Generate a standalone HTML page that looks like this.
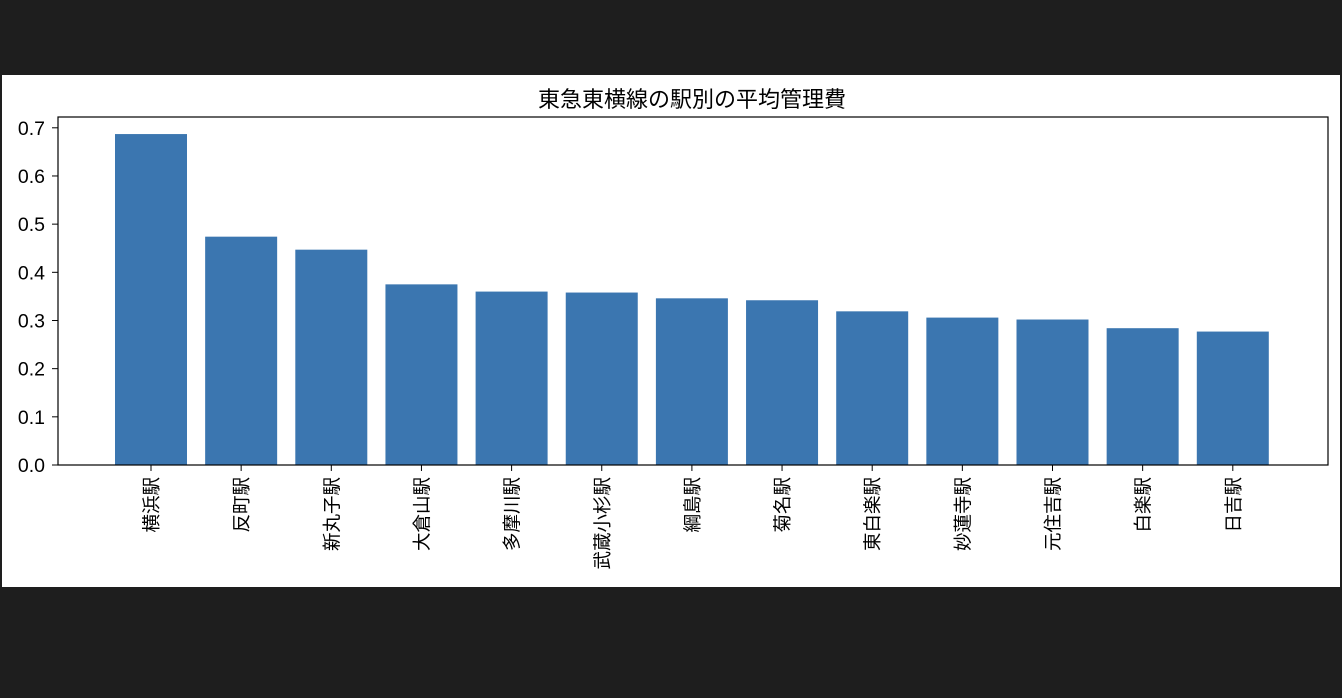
<!DOCTYPE html>
<html><head><meta charset="utf-8"><style>
body{margin:0;background:#1e1e1e;width:1342px;height:698px;overflow:hidden}
svg{position:absolute;left:0;top:0}
text{font-family:"Liberation Sans","Noto Sans CJK JP",sans-serif;fill:#000}
</style></head><body>
<svg id="c" width="1342" height="698">
<rect x="2" y="75" width="1338" height="512" fill="#fff"/>
<text x="692" y="107" font-size="22" text-anchor="middle">東急東横線の駅別の平均管理費</text>
<g id="bars"></g><g id="yax"></g><g id="xax"></g>
<rect x="58" y="117" width="1270" height="348" fill="none" stroke="#000" stroke-width="1.2"/>
</svg>
<script>
const categories=["横浜駅","反町駅","新丸子駅","大倉山駅","多摩川駅","武蔵小杉駅","綱島駅","菊名駅","東白楽駅","妙蓮寺駅","元住吉駅","白楽駅","日吉駅"];
const values=[0.687,0.474,0.447,0.375,0.360,0.358,0.346,0.342,0.319,0.306,0.302,0.284,0.277];
const yTicks=[0,0.1,0.2,0.3,0.4,0.5,0.6,0.7];
const tickLabels=["0.0","0.1","0.2","0.3","0.4","0.5","0.6","0.7"];
const NS="http://www.w3.org/2000/svg";
const y=v=>465-v*(465-127.8)/0.7;
const x=i=>151+i*90.15;
function mk(t,a,p){const e=document.createElementNS(NS,t);for(const k in a)e.setAttribute(k,a[k]);p.appendChild(e);return e;}
const bars=document.getElementById('bars'),yax=document.getElementById('yax'),xax=document.getElementById('xax');
values.forEach((v,i)=>{
 const r=mk('rect',{x:x(i)-36,y:y(v),width:72,height:465-y(v),fill:'#3b76b0'},bars);
 
 
});
yTicks.forEach((t,i)=>{
 const l=mk('line',{x1:52,x2:58,y1:y(t),y2:y(t),stroke:'#000'},yax);
 
 
 const tx=mk('text',{x:45,y:y(t)+7,'font-size':19.5,'text-anchor':'end'},yax);
 tx.textContent=tickLabels[i];
 
 
});
categories.forEach((c,i)=>{
 const l=mk('line',{x1:x(i),x2:x(i),y1:465,y2:471,stroke:'#000'},xax);
 
 
 const tx=mk('text',{transform:`translate(${x(i)+7},477) rotate(-90)`,'font-size':18.5,'text-anchor':'end'},xax);
 tx.textContent=c;
 
 
});
</script></body></html>
